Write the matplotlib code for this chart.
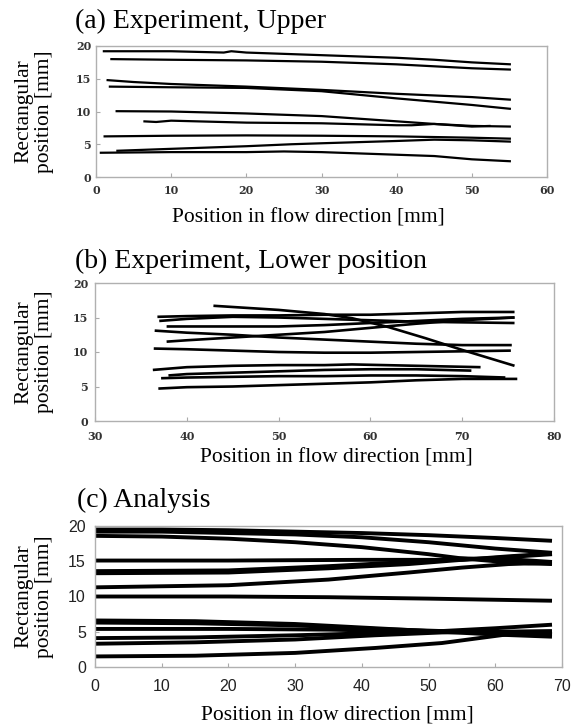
import matplotlib
matplotlib.use("Agg")
import matplotlib.pyplot as plt

# (a) Experiment, Upper
a_x = [
    [0.9, 10, 17, 18, 20, 30, 40, 45, 50, 55.2],
    [1.9, 10, 20, 30, 40, 50, 55.2],
    [1.4, 5, 10, 20, 30, 40, 50, 55.2],
    [1.7, 10, 20, 30, 40, 50, 55.2],
    [2.6, 10, 20, 30, 40, 45, 50, 55.2],
    [6.3, 8, 10, 20, 30, 40, 42, 45, 50, 52.5],
    [1.0, 10, 20, 30, 40, 50, 55.2],
    [2.7, 10, 20, 26, 30, 40, 45, 50, 55.2],
    [0.5, 10, 20, 25, 30, 40, 45, 50, 55.2],
]
a_y = [
    [19.2, 19.2, 19.0, 19.2, 19.0, 18.6, 18.2, 17.9, 17.5, 17.2],
    [18.0, 17.9, 17.8, 17.6, 17.2, 16.6, 16.4],
    [14.8, 14.5, 14.2, 13.8, 13.3, 12.7, 12.2, 11.8],
    [13.8, 13.7, 13.6, 13.1, 12.0, 11.0, 10.4],
    [10.05, 10.0, 9.7, 9.3, 8.5, 8.1, 7.8, 7.7],
    [8.5, 8.4, 8.6, 8.3, 8.2, 7.9, 7.9, 8.1, 7.7, 7.8],
    [6.2, 6.3, 6.35, 6.3, 6.2, 6.0, 5.85],
    [4.0, 4.3, 4.7, 5.0, 5.15, 5.5, 5.7, 5.6, 5.4],
    [3.7, 3.8, 3.8, 3.9, 3.8, 3.4, 3.2, 2.7, 2.4],
]

# (b) Experiment, Lower position
b_x = [
    [42.9, 50, 55, 58, 62, 66, 70, 75.7],
    [36.8, 40, 45, 50, 55, 60, 65, 70, 75.7],
    [37.0, 40, 45, 50, 55, 60, 65, 70, 75.7],
    [37.8, 45, 50, 55, 60, 65, 70, 75.7],
    [36.5, 40, 45, 50, 55, 60, 65, 70, 75.4],
    [37.8, 40, 45, 50, 55, 60, 65, 70, 75.7],
    [36.4, 40, 45, 50, 55, 60, 65, 70, 75.3],
    [36.3, 40, 45, 50, 55, 58, 65, 72],
    [38.0, 40, 45, 50, 55, 60, 65, 71],
    [37.2, 40, 45, 50, 55, 60, 65, 70, 74.7],
    [36.9, 40, 45, 50, 55, 60, 65, 70, 76.0],
]
b_y = [
    [16.7, 16.1, 15.5, 14.9, 13.6, 12.0, 10.3, 8.0],
    [15.1, 15.2, 15.3, 15.3, 15.4, 15.4, 15.6, 15.8, 15.8],
    [14.5, 14.8, 15.1, 15.0, 14.8, 14.6, 14.4, 14.3, 14.2],
    [13.7, 13.7, 13.7, 13.9, 14.2, 14.5, 14.8, 15.0],
    [13.1, 12.8, 12.5, 12.1, 11.8, 11.5, 11.2, 11.0, 11.0],
    [11.5, 11.7, 12.1, 12.5, 12.9, 13.5, 14.1, 14.6, 15.0],
    [10.5, 10.4, 10.2, 10.0, 9.9, 9.9, 10.0, 10.1, 10.2],
    [7.4, 7.8, 8.0, 8.1, 8.1, 8.2, 8.0, 7.8],
    [6.6, 6.8, 7.0, 7.2, 7.4, 7.5, 7.5, 7.3],
    [6.2, 6.3, 6.4, 6.5, 6.5, 6.6, 6.6, 6.5, 6.3],
    [4.7, 4.9, 5.0, 5.2, 5.4, 5.6, 5.9, 6.1, 6.1],
]

# (c) Analysis
c_x = [
    [0, 10, 20, 30, 40, 50, 60, 68.5],
    [0, 10, 20, 30, 40, 50, 60, 68.5],
    [0, 10, 20, 30, 40, 50, 55, 60, 65, 68.5],
    [0, 20, 40, 55, 62, 68.5],
    [0, 20, 35, 47, 55, 62, 68.5],
    [0, 20, 35, 47, 55, 62, 68.5],
    [0, 20, 35, 47, 55, 62, 68.5],
    [0, 20, 35, 50, 68.5],
    [0, 15, 30, 42, 52, 60, 68.5],
    [0, 15, 30, 42, 52, 60, 68.5],
    [0, 20, 35, 45, 55, 68.5],
    [0, 15, 30, 42, 52, 60, 68.5],
    [0, 15, 30, 42, 52, 60, 68.5],
    [0, 15, 30, 42, 52, 60, 64, 68.5],
]
c_y = [
    [19.5, 19.5, 19.4, 19.2, 19.0, 18.7, 18.3, 17.9],
    [19.2, 19.2, 19.0, 18.8, 18.4, 17.7, 16.8, 16.2],
    [18.6, 18.5, 18.2, 17.7, 17.0, 16.0, 15.4, 15.0, 14.7, 14.6],
    [15.1, 15.1, 15.2, 15.2, 15.6, 16.0],
    [13.6, 13.7, 14.3, 14.9, 15.4, 15.3, 14.9],
    [13.3, 13.4, 14.0, 14.6, 15.2, 15.7, 16.1],
    [11.3, 11.6, 12.4, 13.4, 14.1, 14.6, 14.8],
    [10.0, 10.0, 9.9, 9.7, 9.4],
    [6.6, 6.5, 6.1, 5.5, 5.0, 4.6, 4.3],
    [6.3, 6.2, 5.9, 5.4, 5.1, 4.9, 4.7],
    [5.4, 5.4, 5.3, 5.1, 5.0, 4.9],
    [4.1, 4.2, 4.5, 4.8, 5.1, 5.5, 6.0],
    [3.3, 3.5, 3.9, 4.5, 4.9, 5.0, 5.1],
    [1.5, 1.6, 2.0, 2.7, 3.4, 4.4, 4.9, 4.6],
]

titles = ["(a) Experiment, Upper", "(b) Experiment, Lower position", "(c) Analysis"]
xlabel = "Position in flow direction [mm]"
ylabel = "Rectangular\nposition [mm]"

W, H = 578, 727
fig = plt.figure(figsize=(W / 100, H / 100), dpi=100)

serif = "Liberation Serif"

# axes boxes in pixels: left, top, right, bottom
boxes = [(96, 46, 547, 177), (95, 283, 554, 421), (95, 526, 562, 667)]
xlims = [(0, 60), (30, 80), (0, 70)]
xticks = [range(0, 61, 10), range(30, 81, 10), range(0, 71, 10)]
yticks = [range(0, 21, 5)] * 3
title_base = [28, 268, 507]
title_x = [75, 75, 77]
xlab_base = [223, 462, 720]
xlab_x = [308, 336, 337]
line_w = [1.6, 1.9, 2.8]
data = [(a_x, a_y), (b_x, b_y), (c_x, c_y)]

for i, (l, t, r, b) in enumerate(boxes):
    ax = fig.add_axes([l / W, 1 - b / H, (r - l) / W, (b - t) / H])
    xs, ys = data[i]
    for x, y in zip(xs, ys):
        ax.plot(x, y, color="black", lw=line_w[i], solid_capstyle="butt")
    ax.set_xlim(*xlims[i])
    ax.set_ylim(0, 20)
    ax.set_xticks(list(xticks[i]))
    ax.set_yticks(list(yticks[i]))
    for s in ax.spines.values():
        s.set_color("#b0b0b0")
        s.set_linewidth(1.0)
    if i < 2:
        ax.tick_params(direction="in", length=3, width=0.8, color="#aaaaaa",
                       labelcolor="#333333", labelsize=8)
        ax.tick_params(axis="x", pad=5.5 if i == 0 else 7)
        ax.tick_params(axis="y", pad=3.5 if i == 0 else 5)
        for lab in ax.get_xticklabels() + ax.get_yticklabels():
            lab.set_fontfamily("DejaVu Serif")
            lab.set_fontweight("bold")
    else:
        ax.tick_params(direction="in", length=3, width=0.8, color="#aaaaaa",
                       labelcolor="#222222", labelsize=11.5)
        ax.tick_params(axis="x", pad=8.5)
        ax.tick_params(axis="y", pad=6.5)
        for lab in ax.get_xticklabels() + ax.get_yticklabels():
            lab.set_fontfamily(["Liberation Sans Narrow", "Liberation Sans"])

    fig.text(title_x[i] / W, 1 - title_base[i] / H, titles[i], family=serif,
             fontsize=20, ha="left", va="baseline")
    fig.text(xlab_x[i] / W, 1 - xlab_base[i] / H, xlabel, family=serif,
             fontsize=15.5, ha="center", va="baseline")
    fig.text(34 / W, 1 - ((t + b) / 2) / H, ylabel, family=serif, fontsize=15.5,
             rotation=90, ha="center", va="center", multialignment="center",
             linespacing=1.1)

fig.savefig("out.png", dpi=100)
